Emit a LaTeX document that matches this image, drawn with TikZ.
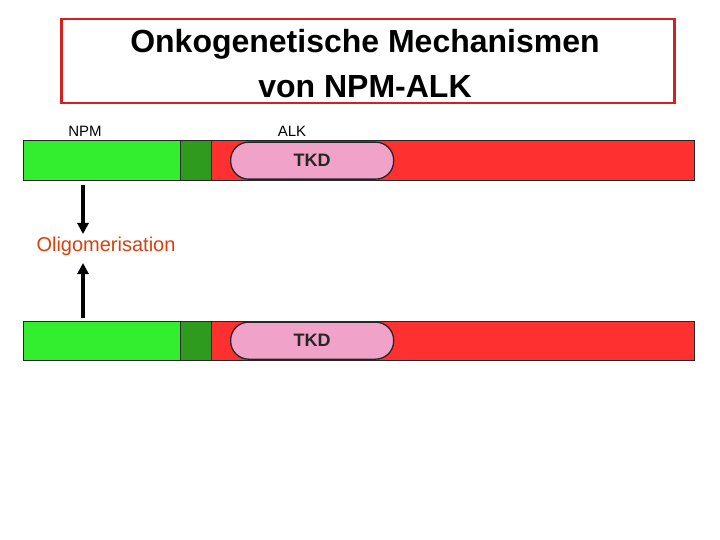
\documentclass[tikz,border=0pt]{standalone}
\usepackage{fontspec}
\setmainfont{Liberation Sans}
\usetikzlibrary{arrows.meta}
\definecolor{npmgreen}{HTML}{33EE2E}
\definecolor{dkgreen}{HTML}{2E9A1E}
\definecolor{alkred}{HTML}{FF3030}
\definecolor{tkdpink}{HTML}{F0A2C8}
\definecolor{titlered}{HTML}{D42020}
\definecolor{oligo}{HTML}{D8400E}
\tikzset{
  seg/.style={draw=black!85, line width=1.2pt, inner sep=0pt, anchor=north west},
  pill/.style={draw=black!85, line width=1.3pt, fill=tkdpink, rounded corners=18pt, inner sep=0pt,
    minimum width=163pt, minimum height=37pt, anchor=north west, font=\fontsize{18}{20}\selectfont\bfseries, text=black!85},
  lbl/.style={font=\fontsize{15}{17}\selectfont, inner sep=0pt},
  arr/.style={line width=3.5pt, -{Triangle[width=11pt,length=11pt]}}
}
\begin{document}
\begin{tikzpicture}[x=1pt,y=-1pt]
\useasboundingbox (0,0) rectangle (720,540);
% title
\node[draw=titlered, line width=2.5pt, minimum width=613pt, minimum height=84pt, anchor=north west, inner sep=0pt] (titlebox) at (60,18) {};
\node[font=\fontsize{32}{45}\selectfont\bfseries, align=center, inner sep=0pt] (title) at (365,64) {Onkogenetische Mechanismen\\von NPM-ALK};
% labels
\node[lbl] (npmlbl) at (85,131) {NPM};
\node[lbl] (alklbl) at (292,131) {ALK};
% top bar
\node[seg, fill=alkred, minimum width=483pt, minimum height=40pt] (red1) at (211,140) {};
\node[seg, fill=npmgreen, minimum width=157pt, minimum height=40pt] (grn1) at (23,140) {};
\node[seg, fill=dkgreen, minimum width=31pt, minimum height=40pt] (dgr1) at (180,140) {};
\node[pill] (tkd1) at (230,141.5) {TKD};
% bottom bar
\node[seg, fill=alkred, minimum width=483pt, minimum height=39pt] (red2) at (211,320.5) {};
\node[seg, fill=npmgreen, minimum width=157pt, minimum height=39pt] (grn2) at (23,320.5) {};
\node[seg, fill=dkgreen, minimum width=31pt, minimum height=39pt] (dgr2) at (180,320.5) {};
\node[pill] (tkd2) at (230,321.5) {TKD};
% oligomerisation
\node[font=\fontsize{20}{22}\selectfont, text=oligo, inner sep=0pt] (olig) at (106,246.5) {Oligomerisation};
\coordinate (a1s) at (83,185);
\coordinate (a1e) at (83,234);
\coordinate (a2s) at (83,318);
\coordinate (a2e) at (83,263);
\draw[arr] (a1s) -- (a1e);
\draw[arr] (a2s) -- (a2e);
\end{tikzpicture}
\end{document}
